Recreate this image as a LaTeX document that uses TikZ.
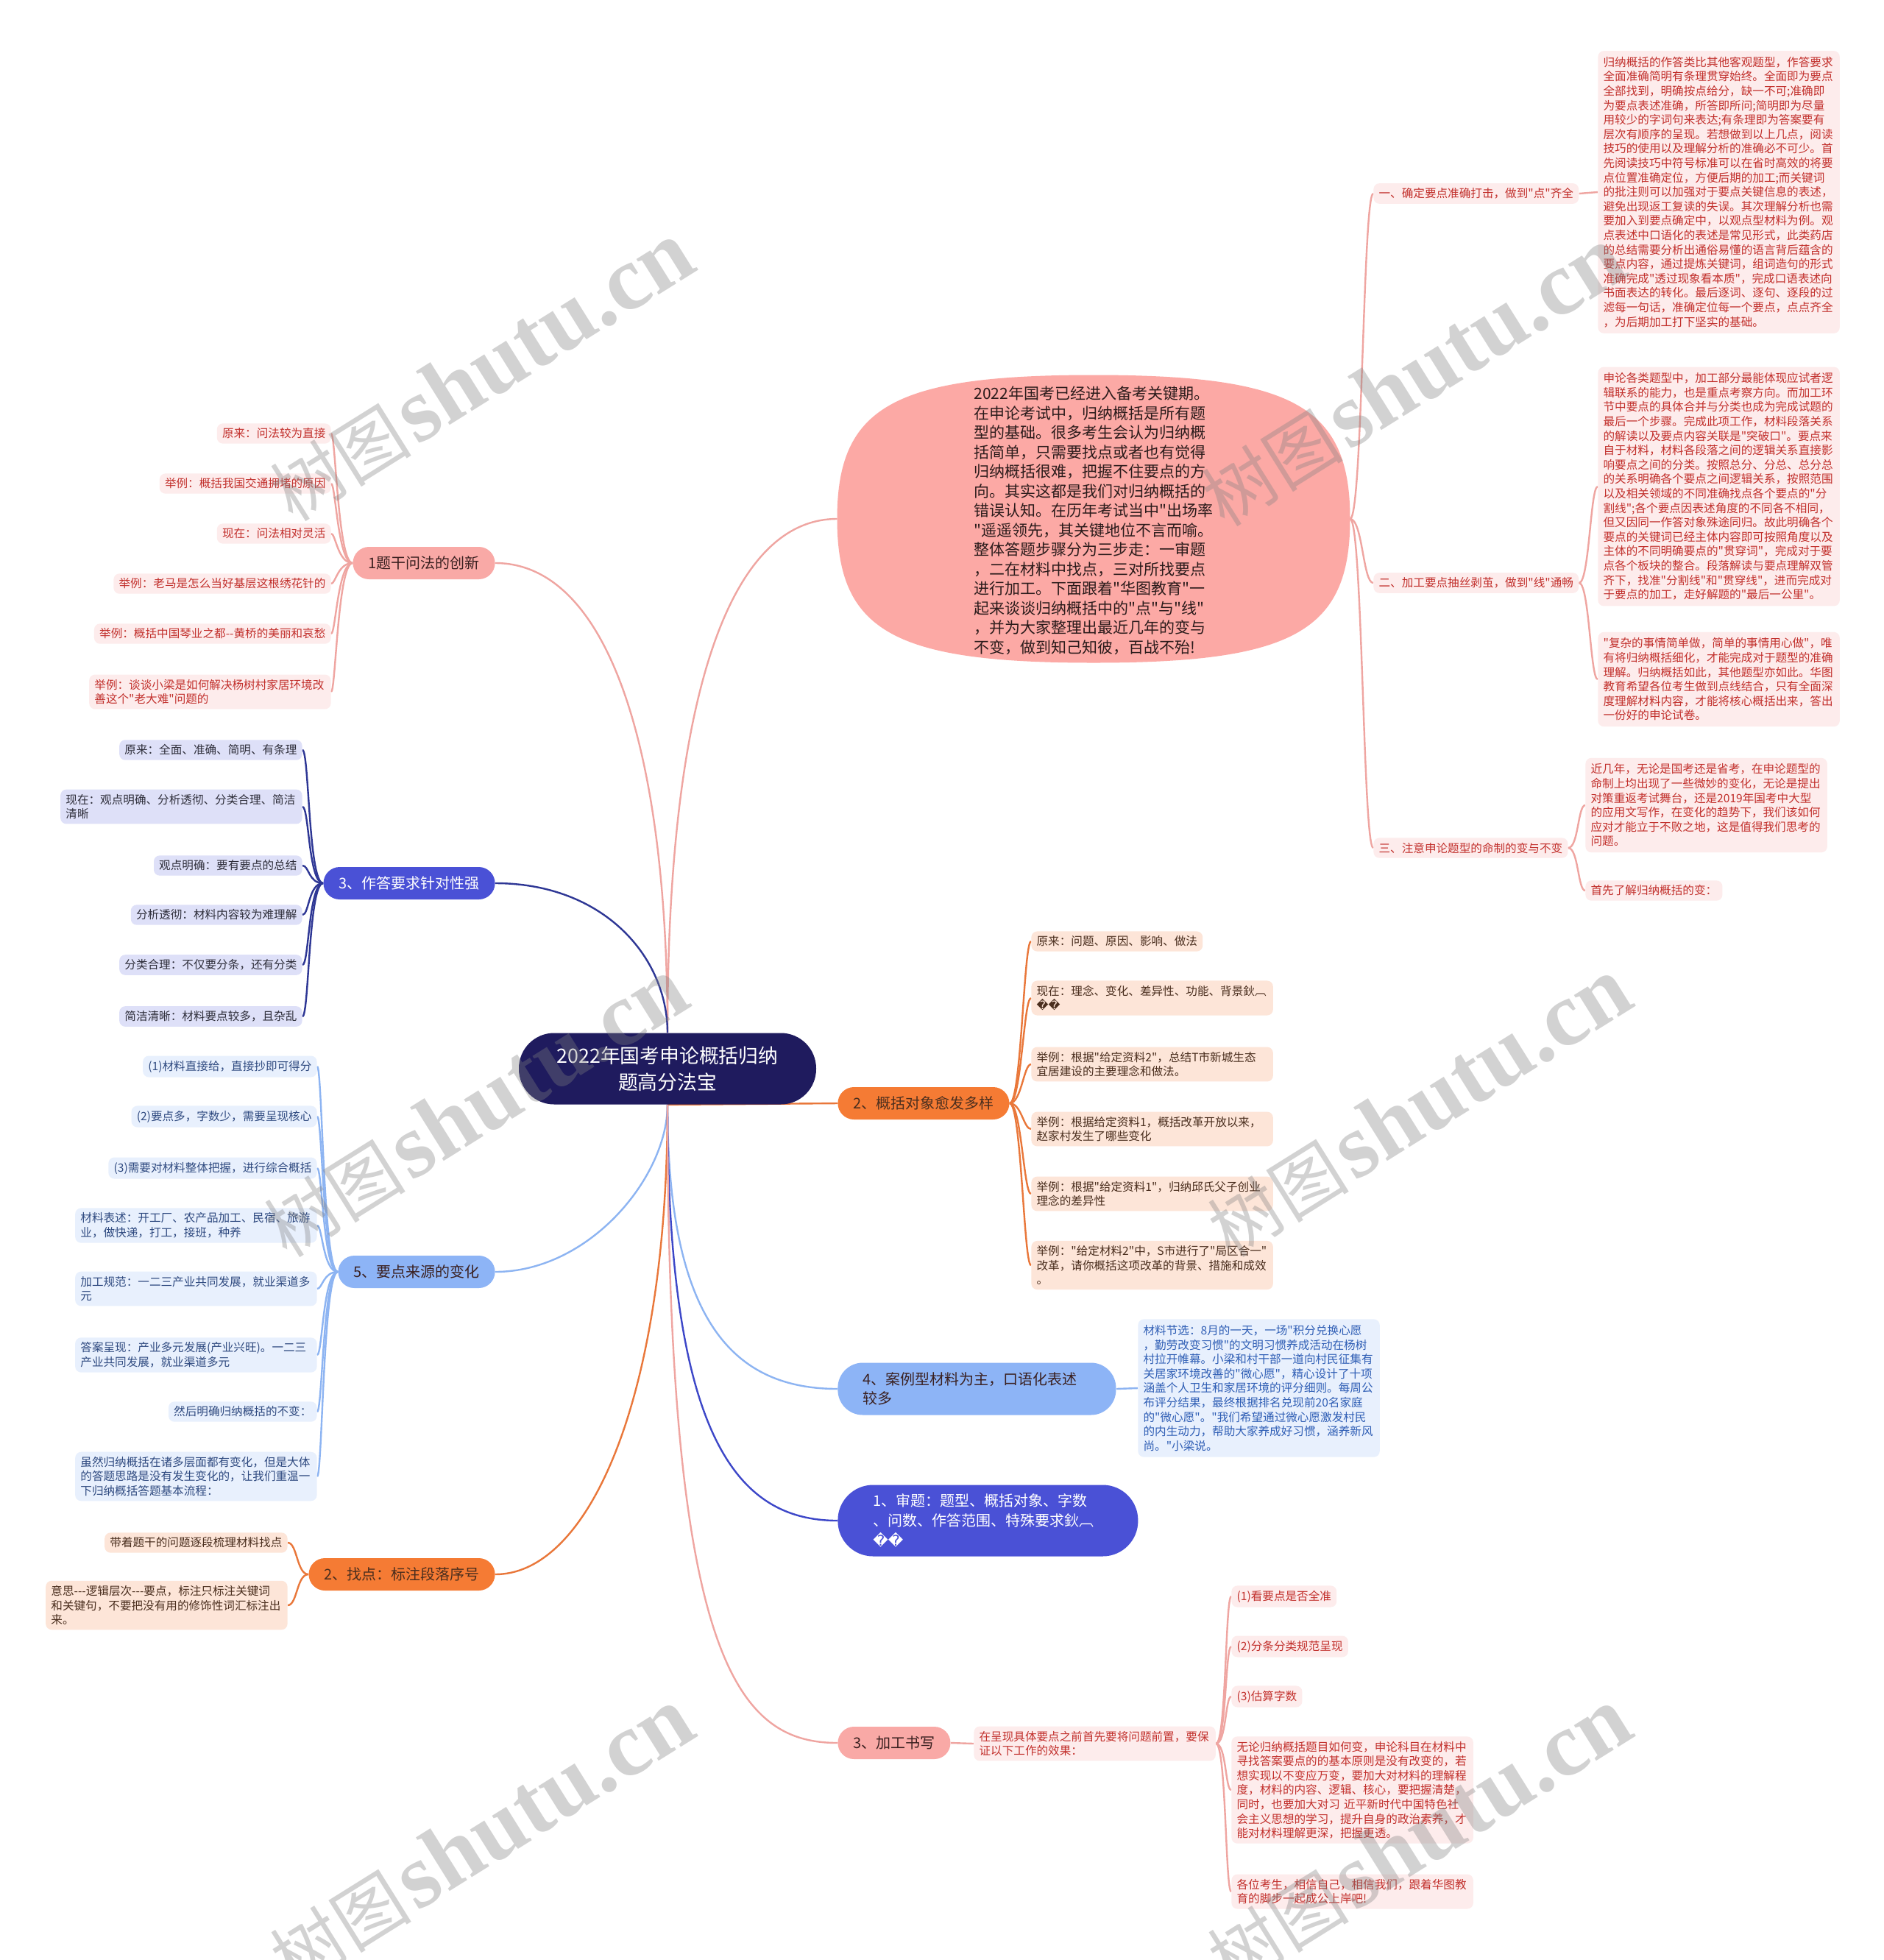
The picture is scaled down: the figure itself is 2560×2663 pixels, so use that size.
\documentclass[tikz,border=0pt]{standalone}
\usepackage{fontspec}
\setmainfont{Noto Sans CJK SC}[Ligatures=TeXOff]
\newfontfamily\replfont{DejaVu Sans}
\newfontfamily\markserif{Liberation Serif}
\usetikzlibrary{backgrounds}

\definecolor{rootnavy}{HTML}{1F1B5E}
\definecolor{introfill}{HTML}{FCA9A5}
\definecolor{introtext}{HTML}{2B1B1B}
\definecolor{pinkfill}{HTML}{F9A9A6}
\definecolor{pinkline}{HTML}{EFA5A1}
\definecolor{pinkleaf}{HTML}{FDECEC}
\definecolor{pinktext}{HTML}{C2302C}
\definecolor{darktext}{HTML}{3A2020}
\definecolor{navyline}{HTML}{2E3795}
\definecolor{royalfill}{HTML}{4A51D6}
\definecolor{royalline}{HTML}{3D47C8}
\definecolor{lavleaf}{HTML}{DEE0F8}
\definecolor{lavtext}{HTML}{2E2E3A}
\definecolor{skyfill}{HTML}{8DB4F6}
\definecolor{skyline}{HTML}{8DB4F2}
\definecolor{skyleaf}{HTML}{E8F0FD}
\definecolor{skytext}{HTML}{2F4A80}
\definecolor{mattext}{HTML}{2F5EB5}
\definecolor{orangefill}{HTML}{F57B34}
\definecolor{orangeline}{HTML}{E9773A}
\definecolor{peachleaf}{HTML}{FDE5D8}
\definecolor{browntext}{HTML}{4A2E1E}

\newcommand{\garbled}{{\replfont\char"FFFD\char"FFFD}}
\newcommand{\markfont}{\fontsize{48}{48}\selectfont}

\tikzset{
  leafbox/.style={rounded corners=4pt, inner xsep=3.6pt, inner ysep=3.2pt,
    minimum height=13.5pt, align=left, font=\fontsize{7.8}{9.8}\selectfont},
  wideleaf/.style={leafbox, text width=157pt},
  leafpink/.style={leafbox, fill=pinkleaf, text=pinktext},
  leaflav/.style={leafbox, fill=lavleaf, text=lavtext},
  leafsky/.style={leafbox, fill=skyleaf, text=skytext},
  leafpeach/.style={leafbox, fill=peachleaf, text=browntext},
  branchbox/.style={rounded corners=11pt, inner xsep=10.5pt, minimum height=22pt,
    align=left, font=\fontsize{10}{13.5}\selectfont},
  link/.style={line width=1.2pt},
  watermark/.style={rotate=32, text=gray, text opacity=0.35, inner sep=0pt}
}

\begin{document}
\begin{tikzpicture}[x=0.5pt,y=-0.5pt]
\useasboundingbox (0,0) rectangle (2560,2663);

% root and intro
\node[rounded corners=24pt, fill=rootnavy, text=white, minimum width=202pt,
  minimum height=48.5pt, align=center, font=\fontsize{13.4}{18}\selectfont]
  (root) at (907,1452) {2022年国考申论概括归纳\\题高分法宝};

\coordinate (introW) at (1137.5,705);
\coordinate (introE) at (1834.5,705);
\fill[introfill] (introW) .. controls (1137.5,552.5) and (1214,509.5) .. (1486,509.5)
  .. controls (1758,509.5) and (1834.5,552.5) .. (introE)
  .. controls (1834.5,857.5) and (1758,900.5) .. (1486,900.5)
  .. controls (1214,900.5) and (1137.5,857.5) .. cycle;
\node[align=left, text=introtext, font=\fontsize{10.5}{13.25}\selectfont] (intro) at (1486,707)
  {2022年国考已经进入备考关键期。\\在申论考试中，归纳概括是所有题\\型的基础。很多考生会认为归纳概\\括简单，只需要找点或者也有觉得\\归纳概括很难，把握不住要点的方\\向。其实这都是我们对归纳概括的\\错误认知。在历年考试当中"出场率\\"遥遥领先，其关键地位不言而喻。\\整体答题步骤分为三步走：一审题\\，二在材料中找点，三对所找要点\\进行加工。下面跟着"华图教育"一\\起来谈谈归纳概括中的"点"与"线"\\，并为大家整理出最近几年的变与\\不变，做到知己知彼，百战不殆!};

% right top
\node[leafpink, anchor=west] (l1) at (1866,263) {一、确定要点准确打击，做到"点"齐全};
\node[leafpink, anchor=west] (l2) at (1866,792) {二、加工要点抽丝剥茧，做到"线"通畅};
\node[leafpink, anchor=west] (l3) at (1866,1152) {三、注意申论题型的命制的变与不变};
\node[leafpink, wideleaf, inner ysep=4pt, anchor=west] (b1) at (2171,261)
  {归纳概括的作答类比其他客观题型，作答要求\\全面准确简明有条理贯穿始终。全面即为要点\\全部找到，明确按点给分，缺一不可;准确即\\为要点表述准确，所答即所问;简明即为尽量\\用较少的字词句来表达;有条理即为答案要有\\层次有顺序的呈现。若想做到以上几点，阅读\\技巧的使用以及理解分析的准确必不可少。首\\先阅读技巧中符号标准可以在省时高效的将要\\点位置准确定位，方便后期的加工;而关键词\\的批注则可以加强对于要点关键信息的表述，\\避免出现返工复读的失误。其次理解分析也需\\要加入到要点确定中，以观点型材料为例。观\\点表述中口语化的表述是常见形式，此类药店\\的总结需要分析出通俗易懂的语言背后蕴含的\\要点内容，通过提炼关键词，组词造句的形式\\准确完成"透过现象看本质"，完成口语表述向\\书面表达的转化。最后逐词、逐句、逐段的过\\滤每一句话，准确定位每一个要点，点点齐全\\，为后期加工打下坚实的基础。};
\node[leafpink, wideleaf, inner ysep=4pt, anchor=west] (b2) at (2171,661)
  {申论各类题型中，加工部分最能体现应试者逻\\辑联系的能力，也是重点考察方向。而加工环\\节中要点的具体合并与分类也成为完成试题的\\最后一个步骤。完成此项工作，材料段落关系\\的解读以及要点内容关联是"突破口"。要点来\\自于材料，材料各段落之间的逻辑关系直接影\\响要点之间的分类。按照总分、分总、总分总\\的关系明确各个要点之间逻辑关系，按照范围\\以及相关领域的不同准确找点各个要点的"分\\割线";各个要点因表述角度的不同各不相同，\\但又因同一作答对象殊途同归。故此明确各个\\要点的关键词已经主体内容即可按照角度以及\\主体的不同明确要点的"贯穿词"，完成对于要\\点各个板块的整合。段落解读与要点理解双管\\齐下，找准"分割线"和"贯穿线"，进而完成对\\于要点的加工，走好解题的"最后一公里"。};
\node[leafpink, wideleaf, inner ysep=4pt, anchor=west] (b3) at (2171,923)
  {"复杂的事情简单做，简单的事情用心做"，唯\\有将归纳概括细化，才能完成对于题型的准确\\理解。归纳概括如此，其他题型亦如此。华图\\教育希望各位考生做到点线结合，只有全面深\\度理解材料内容，才能将核心概括出来，答出\\一份好的申论试卷。};
\node[leafpink, wideleaf, inner ysep=4pt, anchor=west] (near) at (2154,1094)
  {近几年，无论是国考还是省考，在申论题型的\\命制上均出现了一些微妙的变化，无论是提出\\对策重返考试舞台，还是2019年国考中大型\\的应用文写作，在变化的趋势下，我们该如何\\应对才能立于不败之地，这是值得我们思考的\\问题。};
\node[leafpink, anchor=west] (first) at (2154,1210) {首先了解归纳概括的变：};

% left branches
\node[branchbox, fill=pinkfill, text=darktext, anchor=east] (n1) at (673,765) {1题干问法的创新};
\node[branchbox, fill=royalfill, text=white, anchor=east] (n3) at (673,1200) {3、作答要求针对性强};
\node[branchbox, fill=skyfill, text=darktext, anchor=east] (n5) at (673,1728) {5、要点来源的变化};
\node[branchbox, fill=orangefill, text=browntext, anchor=east] (n2) at (673,2139) {2、找点：标注段落序号};

\node[leafpink, anchor=east] (t1a) at (450,589) {原来：问法较为直接};
\node[leafpink, anchor=east] (t1b) at (450,657) {举例：概括我国交通拥堵的原因};
\node[leafpink, anchor=east] (t1c) at (450,725) {现在：问法相对灵活};
\node[leafpink, anchor=east] (t1d) at (450,793) {举例：老马是怎么当好基层这根绣花针的};
\node[leafpink, anchor=east] (t1e) at (450,861) {举例：概括中国琴业之都{-}{-}黄桥的美丽和哀愁};
\node[leafpink, wideleaf, anchor=east] (t1f) at (450,940) {举例：谈谈小梁是如何解决杨树村家居环境改\\善这个"老大难"问题的};

\node[leaflav, anchor=east] (t3a) at (411,1019) {原来：全面、准确、简明、有条理};
\node[leaflav, wideleaf, anchor=east] (t3b) at (411,1096) {现在：观点明确、分析透彻、分类合理、简洁\\清晰};
\node[leaflav, anchor=east] (t3c) at (411,1176) {观点明确：要有要点的总结};
\node[leaflav, anchor=east] (t3d) at (411,1243) {分析透彻：材料内容较为难理解};
\node[leaflav, anchor=east] (t3e) at (411,1311) {分类合理：不仅要分条，还有分类};
\node[leaflav, anchor=east] (t3f) at (411,1381) {简洁清晰：材料要点较多，且杂乱};

\node[leafsky, anchor=east] (t5a) at (431,1449) {(1)材料直接给，直接抄即可得分};
\node[leafsky, anchor=east] (t5b) at (431,1517) {(2)要点多，字数少，需要呈现核心};
\node[leafsky, anchor=east] (t5c) at (431,1587) {(3)需要对材料整体把握，进行综合概括};
\node[leafsky, wideleaf, anchor=east] (t5d) at (431,1665) {材料表述：开工厂、农产品加工、民宿、旅游\\业，做快递，打工，接班，种养};
\node[leafsky, wideleaf, anchor=east] (t5e) at (431,1751) {加工规范：一二三产业共同发展，就业渠道多\\元};
\node[leafsky, wideleaf, anchor=east] (t5f) at (431,1841) {答案呈现：产业多元发展(产业兴旺)。一二三\\产业共同发展，就业渠道多元};
\node[leafsky, anchor=east] (t5g) at (431,1918) {然后明确归纳概括的不变：};
\node[leafsky, wideleaf, anchor=east] (t5h) at (431,2006) {虽然归纳概括在诸多层面都有变化，但是大体\\的答题思路是没有发生变化的，让我们重温一\\下归纳概括答题基本流程：};

\node[leafpeach, anchor=east] (t2a) at (391,2096) {带着题干的问题逐段梳理材料找点};
\node[leafpeach, wideleaf, anchor=east] (t2b) at (391,2181) {意思{-}{-}{-}逻辑层次{-}{-}{-}要点，标注只标注关键词\\和关键句，不要把没有用的修饰性词汇标注出\\来。};

% right branches
\node[branchbox, fill=orangefill, text=browntext, anchor=west] (n2r) at (1138,1499) {2、概括对象愈发多样};
\node[branchbox, fill=skyfill, text=darktext, anchor=west, rounded corners=17pt,
  inner xsep=17pt, text width=155pt, font=\fontsize{10}{12.7}\selectfont, minimum height=35.5pt]
  (n4) at (1138,1887) {4、案例型材料为主，口语化表述\\较多};
\node[branchbox, fill=royalfill, text=white, anchor=west, rounded corners=24pt,
  inner xsep=24pt, text width=156pt, minimum height=48.5pt]
  (n1r) at (1138,2066) {1、审题：题型、概括对象、字数\\、问数、作答范围、特殊要求鈥︹\\\garbled};
\node[branchbox, fill=pinkfill, text=darktext, anchor=west] (n3r) at (1138,2368) {3、加工书写};

\node[leafpeach, anchor=west] (r2a) at (1401,1279) {原来：问题、原因、影响、做法};
\node[leafpeach, wideleaf, anchor=west] (r2b) at (1401,1356) {现在：理念、变化、差异性、功能、背景鈥︹\\\garbled};
\node[leafpeach, wideleaf, anchor=west] (r2c) at (1401,1446) {举例：根据"给定资料2"，总结T市新城生态\\宜居建设的主要理念和做法。};
\node[leafpeach, wideleaf, anchor=west] (r2d) at (1401,1534) {举例：根据给定资料1，概括改革开放以来，\\赵家村发生了哪些变化};
\node[leafpeach, wideleaf, anchor=west] (r2e) at (1401,1622) {举例：根据"给定资料1"，归纳邱氏父子创业\\理念的差异性};
\node[leafpeach, wideleaf, anchor=west] (r2f) at (1401,1719) {举例："给定材料2"中，S市进行了"局区合一"\\改革，请你概括这项改革的背景、措施和成效\\。};

\node[leafsky, wideleaf, text=mattext, inner ysep=4pt, anchor=west] (mat) at (1546,1886)
  {材料节选：8月的一天，一场"积分兑换心愿\\，勤劳改变习惯"的文明习惯养成活动在杨树\\村拉开帷幕。小梁和村干部一道向村民征集有\\关居家环境改善的"微心愿"，精心设计了十项\\涵盖个人卫生和家居环境的评分细则。每周公\\布评分结果，最终根据排名兑现前20名家庭\\的"微心愿"。"我们希望通过微心愿激发村民\\的内生动力，帮助大家养成好习惯，涵养新风\\尚。"小梁说。};

\node[leafpink, wideleaf, anchor=west] (c31) at (1323,2369) {在呈现具体要点之前首先要将问题前置，要保\\证以下工作的效果：};
\node[leafpink, anchor=west] (r3a) at (1673,2169) {(1)看要点是否全准};
\node[leafpink, anchor=west] (r3b) at (1673,2237) {(2)分条分类规范呈现};
\node[leafpink, anchor=west] (r3c) at (1673,2305) {(3)估算字数};
\node[leafpink, wideleaf, anchor=west] (r3d) at (1673,2432) {无论归纳概括题目如何变，申论科目在材料中\\寻找答案要点的的基本原则是没有改变的，若\\想实现以不变应万变，要加大对材料的理解程\\度，材料的内容、逻辑、核心，要把握清楚，\\同时，也要加大对习 近平新时代中国特色社\\会主义思想的学习，提升自身的政治素养，才\\能对材料理解更深，把握更透。};
\node[leafpink, wideleaf, anchor=west] (r3e) at (1673,2570) {各位考生，相信自己，相信我们，跟着华图教\\育的脚步一起成公上岸吧!};

% connectors
\begin{scope}[on background layer]
  \fill[white] (0,0) rectangle (2560,2663);
  \draw[link, pinkline] (root.north) .. controls (907,950) and (990,705) .. (introW);
  \draw[link, pinkline] (root.north) .. controls (907,1000) and (820,765) .. (n1.east);
  \draw[link, navyline] (root.north) .. controls (907,1300) and (820,1200) .. (n3.east);
  \draw[link, skyline] (root.south) .. controls (907,1600) and (800,1728) .. (n5.east);
  \draw[link, orangeline] (root.south) .. controls (907,1900) and (800,2139) .. (n2.east);
  \draw[link, orangeline] (root.south) -- (n2r.west);
  \draw[link, skyline] (root.south) .. controls (907,1800) and (1000,1887) .. (n4.west);
  \draw[link, royalline] (root.south) .. controls (907,1950) and (1000,2066) .. (n1r.west);
  \draw[link, pinkline] (root.south) .. controls (907,2250) and (1000,2368) .. (n3r.west);

  \draw[link, pinkline] (introE) .. controls +(17,0) and +(-14,0) .. (l1.west);
  \draw[link, pinkline] (introE) .. controls +(17,0) and +(-14,0) .. (l2.west);
  \draw[link, pinkline] (introE) .. controls +(17,0) and +(-14,0) .. (l3.west);
  \draw[link, pinkline] (l1.east) -- (b1.west);
  \draw[link, pinkline] (l2.east) .. controls +(14,0) and +(-10,0) .. (b2.west);
  \draw[link, pinkline] (l2.east) .. controls +(14,0) and +(-10,0) .. (b3.west);
  \draw[link, pinkline] (l3.east) .. controls +(14,0) and +(-10,0) .. (near.west);
  \draw[link, pinkline] (l3.east) .. controls +(14,0) and +(-10,0) .. (first.west);

  \draw[link, pinkline] (n1.west) .. controls +(-20,0) and +(6,0) .. (t1a.east);
  \draw[link, pinkline] (n1.west) .. controls +(-20,0) and +(6,0) .. (t1b.east);
  \draw[link, pinkline] (n1.west) .. controls +(-20,0) and +(6,0) .. (t1c.east);
  \draw[link, pinkline] (n1.west) .. controls +(-20,0) and +(6,0) .. (t1d.east);
  \draw[link, pinkline] (n1.west) .. controls +(-20,0) and +(6,0) .. (t1e.east);
  \draw[link, pinkline] (n1.west) .. controls +(-20,0) and +(6,0) .. (t1f.east);

  \draw[link, navyline] (n3.west) .. controls +(-20,0) and +(9,0) .. (t3a.east);
  \draw[link, navyline] (n3.west) .. controls +(-20,0) and +(9,0) .. (t3b.east);
  \draw[link, navyline] (n3.west) .. controls +(-20,0) and +(9,0) .. (t3c.east);
  \draw[link, navyline] (n3.west) .. controls +(-20,0) and +(9,0) .. (t3d.east);
  \draw[link, navyline] (n3.west) .. controls +(-20,0) and +(9,0) .. (t3e.east);
  \draw[link, navyline] (n3.west) .. controls +(-20,0) and +(9,0) .. (t3f.east);

  \draw[link, skyline] (n5.west) .. controls +(-20,0) and +(7,0) .. (t5a.east);
  \draw[link, skyline] (n5.west) .. controls +(-20,0) and +(7,0) .. (t5b.east);
  \draw[link, skyline] (n5.west) .. controls +(-20,0) and +(7,0) .. (t5c.east);
  \draw[link, skyline] (n5.west) .. controls +(-20,0) and +(7,0) .. (t5d.east);
  \draw[link, skyline] (n5.west) .. controls +(-20,0) and +(7,0) .. (t5e.east);
  \draw[link, skyline] (n5.west) .. controls +(-20,0) and +(7,0) .. (t5f.east);
  \draw[link, skyline] (n5.west) .. controls +(-20,0) and +(7,0) .. (t5g.east);
  \draw[link, skyline] (n5.west) .. controls +(-20,0) and +(7,0) .. (t5h.east);

  \draw[link, orangeline] (n2.west) .. controls +(-16,0) and +(13,0) .. (t2a.east);
  \draw[link, orangeline] (n2.west) .. controls +(-16,0) and +(13,0) .. (t2b.east);

  \draw[link, orangeline] (n2r.east) .. controls +(16,0) and +(-10,0) .. (r2a.west);
  \draw[link, orangeline] (n2r.east) .. controls +(16,0) and +(-10,0) .. (r2b.west);
  \draw[link, orangeline] (n2r.east) .. controls +(16,0) and +(-10,0) .. (r2c.west);
  \draw[link, orangeline] (n2r.east) .. controls +(16,0) and +(-10,0) .. (r2d.west);
  \draw[link, orangeline] (n2r.east) .. controls +(16,0) and +(-10,0) .. (r2e.west);
  \draw[link, orangeline] (n2r.east) .. controls +(16,0) and +(-10,0) .. (r2f.west);

  \draw[link, skyline] (n4.east) -- (mat.west);
  \draw[link, pinkline] (n3r.east) -- (c31.west);

  \draw[link, pinkline] (c31.east) .. controls +(14,0) and +(-8,0) .. (r3a.west);
  \draw[link, pinkline] (c31.east) .. controls +(14,0) and +(-8,0) .. (r3b.west);
  \draw[link, pinkline] (c31.east) .. controls +(14,0) and +(-8,0) .. (r3c.west);
  \draw[link, pinkline] (c31.east) .. controls +(14,0) and +(-8,0) .. (r3d.west);
  \draw[link, pinkline] (c31.east) .. controls +(14,0) and +(-8,0) .. (r3e.west);
\end{scope}

% watermarks
\begin{scope}
  \clip (0,0) rectangle (2560,2663);
  \node[watermark] (wm1) at (654,505) {{\markfont 树图}\hspace{0.35em}{\markserif\bfseries\fontsize{62}{62}\selectfont shutu.cn}};
  \node[watermark] (wm2) at (1920,512) {{\markfont 树图}\hspace{0.35em}{\markserif\bfseries\fontsize{62}{62}\selectfont shutu.cn}};
  \node[watermark] (wm3) at (646,1505) {{\markfont 树图}\hspace{0.35em}{\markserif\bfseries\fontsize{62}{62}\selectfont shutu.cn}};
  \node[watermark] (wm4) at (1928,1505) {{\markfont 树图}\hspace{0.35em}{\markserif\bfseries\fontsize{62}{62}\selectfont shutu.cn}};
  \node[watermark] (wm5) at (654,2497) {{\markfont 树图}\hspace{0.35em}{\markserif\bfseries\fontsize{62}{62}\selectfont shutu.cn}};
  \node[watermark] (wm6) at (1928,2497) {{\markfont 树图}\hspace{0.35em}{\markserif\bfseries\fontsize{62}{62}\selectfont shutu.cn}};
\end{scope}
\end{tikzpicture}
\end{document}
